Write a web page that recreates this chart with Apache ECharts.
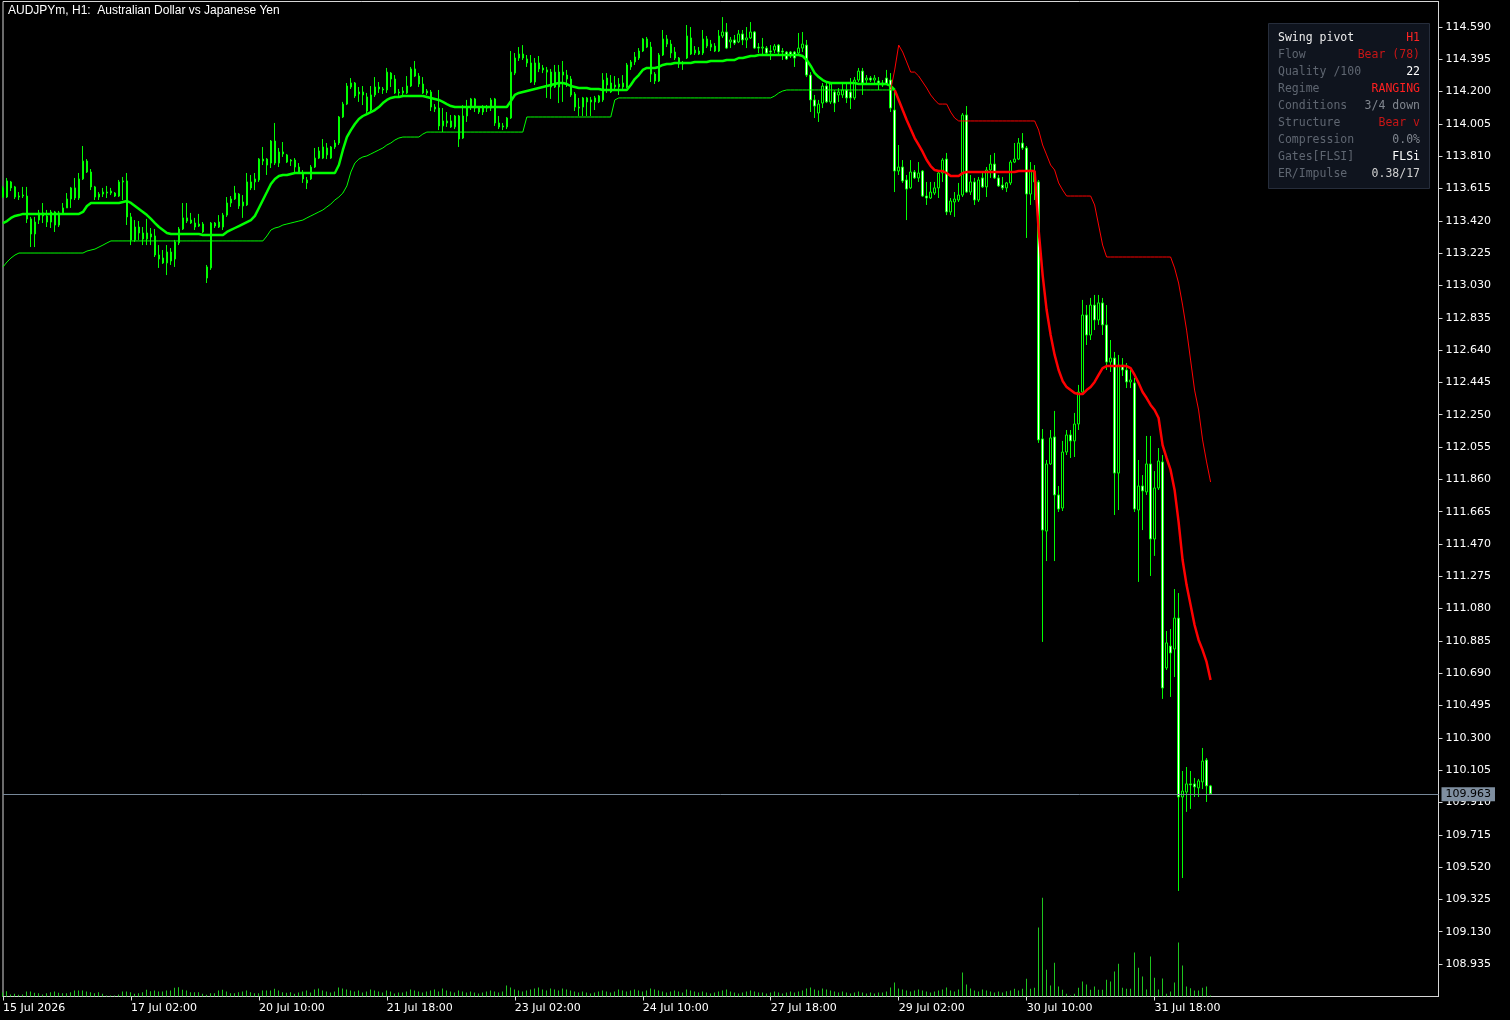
<!DOCTYPE html>
<html><head><meta charset="utf-8">
<script src="https://cdn.jsdelivr.net/npm/echarts@6/dist/echarts.min.js"></script>
<style>html,body{margin:0;padding:0;background:#000;}#chart{width:1510px;height:1020px;}</style>
</head><body><div id="chart"></div>
<script>
// ---- tick labels ----
const xTickLabels = ['15 Jul 2026','17 Jul 02:00','20 Jul 10:00','21 Jul 18:00','23 Jul 02:00','24 Jul 10:00','27 Jul 18:00','29 Jul 02:00','30 Jul 10:00','31 Jul 18:00'];
const barsPerTick = 32;
const slotCount = 360;
const yTickLabels = ['114.590','114.395','114.200','114.005','113.810','113.615','113.420','113.225','113.030','112.835','112.640','112.445','112.250','112.055','111.860','111.665','111.470','111.275','111.080','110.885','110.690','110.495','110.300','110.105','109.910','109.715','109.520','109.325','109.130','108.935'];
const priceMin = 108.739, priceMax = 114.744;
const volMax = 29850;

// ---- OHLC (H1 bars) ----
const openPrices = [
113.619,113.564,113.655,113.625,113.564,113.570,113.570,113.432,113.341,113.425,
113.468,113.450,113.413,113.474,113.395,113.468,113.498,113.552,113.619,113.558,
113.673,113.781,113.715,113.625,113.564,113.582,113.594,113.588,113.588,113.570,
113.655,113.661,113.444,113.305,113.383,113.347,113.311,113.341,113.329,113.214,
113.196,113.166,113.232,113.190,113.287,113.371,113.438,113.425,113.407,113.389,
113.401,113.142,113.136,113.407,113.413,113.383,113.455,113.528,113.552,113.582,
113.510,113.516,113.655,113.655,113.667,113.793,113.793,113.769,113.902,113.769,
113.836,113.818,113.787,113.787,113.745,113.709,113.667,113.673,113.745,113.799,
113.866,113.818,113.866,113.866,113.890,114.047,114.125,114.228,114.252,114.186,
114.198,114.168,114.089,114.180,114.228,114.216,114.210,114.312,114.276,114.198,
114.192,114.192,114.234,114.337,114.294,114.246,114.204,114.198,114.107,114.101,
113.993,114.023,114.023,113.987,114.053,113.920,114.053,114.107,114.156,114.101,
114.101,114.101,114.101,114.156,114.011,113.993,113.987,114.041,114.312,114.427,
114.427,114.397,114.373,114.258,114.373,114.343,114.331,114.318,114.228,114.318,
114.318,114.300,114.276,114.186,114.107,114.107,114.162,114.150,114.162,114.138,
114.150,114.282,114.252,114.240,114.246,114.228,114.228,114.349,114.379,114.445,
114.445,114.518,114.469,114.306,114.264,114.421,114.518,114.487,114.439,114.403,
114.373,114.403,114.524,114.433,114.445,114.433,114.518,114.469,114.475,114.445,
114.536,114.560,114.500,114.512,114.500,114.548,114.512,114.524,114.560,114.469,
114.463,114.463,114.445,114.451,114.481,114.445,114.439,114.439,114.439,114.433,
114.463,114.481,114.300,114.150,114.071,114.131,114.234,114.138,114.198,114.180,
114.180,114.210,114.198,114.162,114.270,114.324,114.270,114.282,114.270,114.264,
114.252,114.282,114.270,114.089,113.721,113.745,113.667,113.619,113.715,113.679,
113.721,113.570,113.558,113.588,113.619,113.709,113.793,113.474,113.534,113.546,
113.576,114.059,113.594,113.655,113.546,113.679,113.625,113.727,113.763,113.679,
113.636,113.619,113.649,113.775,113.793,113.890,113.860,113.582,113.715,113.655,
112.104,111.548,111.953,112.116,111.766,111.687,112.025,112.128,112.092,112.194,
112.387,112.852,112.731,112.912,112.822,112.925,112.792,112.568,112.592,111.898,
112.550,112.520,112.448,112.442,111.675,111.820,111.784,111.953,111.500,111.808,
111.965,110.722,110.854,110.836,111.023,109.943,109.973,110.022,110.022,109.998,
110.034,110.166,110.010];
const closePrices = [
113.564,113.661,113.619,113.564,113.570,113.576,113.431,113.341,113.413,113.468,
113.450,113.413,113.474,113.395,113.468,113.498,113.552,113.619,113.558,113.673,
113.781,113.715,113.625,113.564,113.582,113.594,113.588,113.600,113.570,113.655,
113.661,113.444,113.305,113.383,113.347,113.311,113.347,113.323,113.214,113.190,
113.166,113.232,113.178,113.293,113.371,113.438,113.419,113.407,113.383,113.401,
113.353,113.075,113.407,113.389,113.383,113.455,113.528,113.552,113.588,113.510,
113.534,113.655,113.619,113.673,113.793,113.781,113.757,113.902,113.769,113.836,
113.824,113.775,113.781,113.745,113.715,113.673,113.649,113.745,113.799,113.842,
113.799,113.860,113.799,113.890,114.047,114.125,114.234,114.252,114.174,114.198,
114.180,114.083,114.180,114.228,114.216,114.210,114.318,114.276,114.192,114.192,
114.204,114.234,114.337,114.294,114.246,114.192,114.192,114.107,114.095,113.993,
114.023,114.011,113.987,114.053,113.914,114.053,114.107,114.156,114.101,114.077,
114.077,114.107,114.150,114.011,113.987,113.987,114.041,114.318,114.403,114.403,
114.403,114.373,114.258,114.373,114.337,114.331,114.318,114.228,114.318,114.228,
114.300,114.276,114.180,114.107,114.101,114.162,114.138,114.138,114.138,114.174,
114.270,114.240,114.198,114.228,114.228,114.252,114.361,114.379,114.409,114.403,
114.518,114.469,114.306,114.264,114.421,114.518,114.487,114.433,114.403,114.367,
114.367,114.536,114.427,114.451,114.427,114.518,114.475,114.487,114.445,114.536,
114.560,114.463,114.512,114.493,114.548,114.512,114.524,114.560,114.463,114.463,
114.469,114.433,114.439,114.475,114.439,114.439,114.397,114.415,114.403,114.463,
114.487,114.300,114.150,114.113,114.125,114.234,114.138,114.246,114.131,114.198,
114.210,114.162,114.162,114.270,114.324,114.252,114.282,114.270,114.282,114.252,
114.240,114.246,114.101,113.721,113.745,113.661,113.612,113.715,113.679,113.709,
113.570,113.558,113.594,113.619,113.709,113.787,113.474,113.540,113.552,113.576,
114.059,113.594,113.655,113.546,113.667,113.625,113.727,113.763,113.679,113.631,
113.619,113.649,113.775,113.793,113.890,113.860,113.582,113.727,113.655,112.098,
111.554,111.953,112.110,111.766,111.681,112.025,112.128,112.092,112.194,112.387,
112.852,112.731,112.912,112.822,112.925,112.792,112.568,112.592,111.898,112.550,
112.520,112.448,112.460,111.681,111.820,111.790,111.953,111.500,111.808,111.971,
110.601,110.873,110.812,111.023,109.943,109.979,110.022,110.016,110.004,110.040,
110.160,110.010,109.963];
const highPrices = [
113.631,113.679,113.661,113.631,113.594,113.625,113.625,113.444,113.444,113.486,
113.528,113.486,113.486,113.480,113.480,113.528,113.588,113.625,113.679,113.709,
113.872,113.793,113.733,113.631,113.594,113.619,113.631,113.619,113.594,113.667,
113.685,113.709,113.468,113.425,113.419,113.383,113.432,113.377,113.371,113.274,
113.244,113.274,113.256,113.305,113.383,113.528,113.528,113.468,113.438,113.462,
113.413,113.154,113.413,113.413,113.455,113.468,113.564,113.570,113.631,113.588,
113.576,113.709,113.697,113.709,113.799,113.866,113.799,113.908,114.011,113.860,
113.896,113.824,113.793,113.799,113.769,113.727,113.685,113.757,113.860,113.866,
113.914,113.890,113.872,113.908,114.053,114.138,114.252,114.282,114.258,114.228,
114.234,114.192,114.234,114.288,114.258,114.228,114.343,114.318,114.300,114.216,
114.228,114.294,114.349,114.385,114.312,114.288,114.216,114.210,114.125,114.210,
114.101,114.077,114.059,114.059,114.059,114.119,114.150,114.162,114.162,114.113,
114.119,114.119,114.162,114.162,114.053,114.011,114.047,114.445,114.433,114.469,
114.481,114.421,114.421,114.403,114.415,114.361,114.349,114.337,114.361,114.361,
114.385,114.331,114.294,114.198,114.162,114.168,114.168,114.168,114.174,114.180,
114.312,114.312,114.300,114.294,114.282,114.300,114.373,114.391,114.439,114.463,
114.524,114.530,114.500,114.318,114.433,114.572,114.542,114.512,114.469,114.409,
114.385,114.602,114.590,114.475,114.469,114.572,114.536,114.512,114.493,114.572,
114.650,114.614,114.530,114.542,114.572,114.572,114.590,114.620,114.566,114.493,
114.524,114.475,114.481,114.487,114.487,114.463,114.445,114.445,114.445,114.554,
114.560,114.512,114.318,114.180,114.150,114.252,114.252,114.252,114.210,114.222,
114.252,114.252,114.282,114.288,114.343,114.343,114.300,114.294,114.300,114.288,
114.270,114.331,114.312,114.210,113.878,113.787,113.697,113.787,113.727,113.775,
113.727,113.655,113.655,113.655,113.715,113.799,113.830,113.558,113.594,113.649,
114.071,114.113,113.697,113.679,113.685,113.709,113.745,113.818,113.830,113.697,
113.685,113.655,113.787,113.890,113.920,113.950,113.872,113.775,113.757,113.667,
112.164,111.977,112.158,112.273,111.820,112.092,112.158,112.158,112.261,112.430,
112.943,112.912,112.955,112.973,112.973,112.955,112.912,112.701,112.629,112.611,
112.592,112.562,112.520,112.472,111.977,111.886,112.122,112.122,111.910,112.049,
112.007,110.945,110.957,111.198,111.174,110.100,110.124,110.100,110.058,110.052,
110.239,110.178,110.016];
const lowPrices = [
113.558,113.558,113.600,113.552,113.546,113.558,113.407,113.262,113.262,113.401,
113.407,113.383,113.377,113.353,113.383,113.462,113.498,113.498,113.546,113.546,
113.667,113.709,113.606,113.546,113.546,113.564,113.558,113.576,113.564,113.564,
113.546,113.395,113.274,113.293,113.305,113.274,113.274,113.274,113.202,113.136,
113.160,113.093,113.154,113.142,113.274,113.365,113.407,113.401,113.365,113.383,
113.347,113.045,113.124,113.377,113.377,113.365,113.444,113.504,113.546,113.492,
113.438,113.510,113.606,113.606,113.655,113.757,113.697,113.739,113.757,113.745,
113.806,113.769,113.751,113.709,113.709,113.649,113.612,113.667,113.739,113.793,
113.793,113.793,113.793,113.854,113.878,114.041,114.119,114.216,114.162,114.138,
114.119,114.059,114.077,114.168,114.192,114.186,114.192,114.228,114.186,114.174,
114.174,114.186,114.228,114.288,114.228,114.186,114.180,114.083,114.077,113.968,
113.956,113.987,113.981,113.974,113.866,113.914,114.017,114.089,114.077,114.065,
114.059,114.077,114.083,113.993,113.974,113.968,113.974,114.035,114.300,114.385,
114.391,114.349,114.252,114.240,114.318,114.312,114.162,114.156,114.222,114.131,
114.138,114.228,114.168,114.083,114.053,114.053,114.053,114.053,114.089,114.131,
114.138,114.192,114.192,114.210,114.180,114.210,114.222,114.331,114.361,114.391,
114.439,114.463,114.258,114.246,114.258,114.415,114.469,114.403,114.391,114.343,
114.331,114.397,114.421,114.421,114.421,114.421,114.463,114.445,114.439,114.439,
114.524,114.457,114.463,114.481,114.493,114.481,114.463,114.518,114.457,114.433,
114.427,114.421,114.391,114.433,114.427,114.391,114.391,114.403,114.349,114.421,
114.439,114.288,114.077,114.041,114.017,114.101,114.131,114.125,114.077,114.138,
114.162,114.131,114.095,114.150,114.258,114.180,114.240,114.258,114.240,114.210,
114.228,114.240,114.077,113.594,113.697,113.649,113.425,113.612,113.673,113.655,
113.564,113.516,113.552,113.576,113.558,113.655,113.455,113.455,113.444,113.534,
113.564,113.588,113.576,113.516,113.534,113.619,113.564,113.679,113.673,113.625,
113.606,113.594,113.636,113.769,113.787,113.848,113.317,113.516,113.546,112.080,
110.879,111.367,111.947,111.367,111.663,111.669,112.007,111.989,111.995,112.158,
112.369,112.671,112.701,112.761,112.792,112.731,112.520,112.508,111.645,111.675,
112.484,112.411,112.411,111.663,111.241,111.554,111.766,111.277,111.398,111.796,
110.535,110.710,110.547,110.667,109.376,109.454,109.853,109.871,109.943,109.943,
109.991,109.913,109.958];

// ---- tick volume ----
const tickVolume = [
120,160,60,80,50,60,150,150,110,100,
60,100,130,150,110,100,100,130,180,180,
180,150,130,100,130,80,30,30,30,60,
150,150,130,80,100,130,200,160,180,150,
150,180,180,260,280,200,180,130,130,130,
80,50,100,100,180,200,150,100,100,130,
150,180,130,100,100,180,180,180,230,180,
130,110,130,80,120,150,180,120,210,240,
180,150,120,150,270,240,210,180,150,180,
120,150,210,180,150,120,180,150,90,120,
120,150,210,180,150,120,150,180,210,150,
240,180,150,120,180,150,120,150,120,90,
120,150,180,150,120,150,330,270,210,180,
150,180,210,240,270,210,180,240,210,180,
240,210,180,150,120,150,120,90,120,150,
180,150,120,150,210,180,150,180,210,180,
150,180,240,210,180,150,120,150,180,150,
120,210,180,150,120,150,120,90,120,150,
180,210,150,120,90,120,150,180,150,120,
120,90,120,150,120,90,120,150,120,150,
180,240,270,210,180,240,210,180,150,120,
150,120,90,120,150,120,90,120,90,120,
120,150,270,420,240,210,180,150,180,210,
180,150,120,150,180,210,270,180,150,210,
720,360,240,180,150,210,180,150,120,150,
120,160,180,230,180,230,530,230,260,2070,
2960,800,330,1010,300,200,80,30,80,260,
450,360,200,300,200,200,500,450,750,980,
260,230,230,1320,860,600,210,1200,560,210,
540,80,150,420,1620,930,300,250,180,180,
260,300,30];

// ---- swing pivot indicator lines ----
// pivot line while bullish (bars 0..223)
const pivotBull = [
113.407,113.419,113.438,113.450,113.455,113.462,113.462,113.462,113.462,113.462,
113.462,113.462,113.462,113.462,113.462,113.462,113.462,113.462,113.462,113.462,
113.474,113.510,113.528,113.528,113.528,113.528,113.528,113.528,113.528,113.528,
113.534,113.540,113.528,113.510,113.492,113.474,113.455,113.432,113.407,113.383,
113.365,113.347,113.341,113.341,113.341,113.341,113.341,113.341,113.341,113.341,
113.335,113.335,113.335,113.335,113.335,113.335,113.353,113.365,113.377,113.389,
113.401,113.413,113.425,113.450,113.498,113.546,113.594,113.643,113.673,113.691,
113.697,113.697,113.703,113.709,113.709,113.709,113.709,113.709,113.709,113.709,
113.709,113.709,113.709,113.709,113.757,113.848,113.926,113.968,114.005,114.035,
114.053,114.065,114.077,114.089,114.107,114.131,114.150,114.162,114.168,114.168,
114.174,114.174,114.174,114.174,114.174,114.174,114.168,114.162,114.156,114.150,
114.138,114.125,114.113,114.107,114.107,114.107,114.107,114.107,114.107,114.107,
114.107,114.107,114.107,114.107,114.107,114.107,114.107,114.143,114.180,114.192,
114.198,114.204,114.210,114.216,114.222,114.228,114.234,114.240,114.246,114.252,
114.252,114.246,114.234,114.228,114.222,114.222,114.222,114.216,114.216,114.216,
114.210,114.210,114.210,114.210,114.210,114.210,114.210,114.240,114.276,114.300,
114.331,114.343,114.343,114.343,114.349,114.361,114.367,114.367,114.373,114.373,
114.373,114.373,114.373,114.379,114.379,114.379,114.379,114.385,114.385,114.385,
114.385,114.391,114.391,114.391,114.403,114.403,114.409,114.415,114.415,114.421,
114.421,114.421,114.421,114.421,114.421,114.421,114.421,114.421,114.421,114.421,
114.415,114.391,114.355,114.312,114.288,114.270,114.258,114.252,114.252,114.252,
114.252,114.252,114.252,114.252,114.246,114.246,114.246,114.246,114.246,114.246,
114.246,114.246,114.234,114.210];
// trailing support (bars 0..223)
const supportBand = [
113.142,113.172,113.196,113.214,113.226,113.226,113.226,113.226,113.226,113.226,
113.226,113.226,113.226,113.226,113.226,113.226,113.226,113.226,113.226,113.226,
113.226,113.238,113.244,113.250,113.262,113.274,113.287,113.299,113.299,113.299,
113.299,113.299,113.299,113.299,113.299,113.299,113.299,113.299,113.299,113.299,
113.299,113.299,113.299,113.299,113.299,113.299,113.299,113.299,113.299,113.299,
113.299,113.299,113.299,113.299,113.299,113.299,113.299,113.299,113.299,113.299,
113.299,113.299,113.299,113.299,113.299,113.299,113.329,113.365,113.377,113.383,
113.395,113.401,113.407,113.413,113.419,113.425,113.438,113.450,113.462,113.474,
113.486,113.504,113.522,113.546,113.564,113.588,113.631,113.715,113.769,113.793,
113.806,113.812,113.824,113.836,113.848,113.860,113.878,113.890,113.908,113.920,
113.926,113.926,113.926,113.926,113.926,113.944,113.956,113.956,113.956,113.956,
113.956,113.956,113.956,113.956,113.956,113.956,113.956,113.956,113.956,113.956,
113.956,113.956,113.956,113.956,113.956,113.956,113.956,113.956,113.956,113.956,
113.956,114.047,114.047,114.047,114.047,114.047,114.047,114.047,114.047,114.047,
114.047,114.047,114.047,114.047,114.047,114.047,114.047,114.047,114.047,114.047,
114.047,114.047,114.047,114.150,114.162,114.162,114.162,114.162,114.162,114.162,
114.162,114.162,114.162,114.162,114.162,114.162,114.162,114.162,114.162,114.162,
114.162,114.162,114.162,114.162,114.162,114.162,114.162,114.162,114.162,114.162,
114.162,114.162,114.162,114.162,114.162,114.162,114.162,114.162,114.162,114.162,
114.162,114.162,114.162,114.174,114.192,114.204,114.210,114.210,114.210,114.210,
114.210,114.210,114.210,114.210,114.210,114.210,114.210,114.210,114.210,114.210,
114.210,114.210,114.210,114.210,114.210,114.210,114.210,114.210,114.210,114.210,
114.210,114.210,114.210,114.210];
// pivot line while bearish (bars 223..302)
const pivotBearStart = 223;
const pivotBear = [
114.210,114.150,114.089,114.029,113.974,113.920,113.878,113.836,113.787,113.751,
113.727,113.721,113.721,113.709,113.691,113.691,113.691,113.709,113.715,113.715,
113.715,113.715,113.715,113.715,113.715,113.715,113.715,113.715,113.715,113.715,
113.715,113.721,113.721,113.721,113.721,113.721,113.365,113.093,112.882,112.731,
112.611,112.520,112.454,112.417,112.399,112.381,112.375,112.375,112.399,112.417,
112.448,112.490,112.532,112.544,112.544,112.544,112.544,112.544,112.544,112.532,
112.490,112.442,112.387,112.351,112.309,112.279,112.230,112.067,111.989,111.917,
111.796,111.603,111.373,111.222,111.102,110.981,110.891,110.830,110.758,110.649];
// trailing resistance (bars 222..302)
const resistStart = 222;
const resistBand = [
114.210,
114.331,114.481,114.439,114.379,114.318,114.318,114.294,114.258,114.222,114.180,
114.150,114.125,114.125,114.125,114.077,114.041,114.023,114.023,114.023,114.023,
114.023,114.023,114.023,114.023,114.023,114.023,114.023,114.023,114.023,114.023,
114.023,114.023,114.023,114.023,114.023,114.023,113.968,113.878,113.818,113.757,
113.727,113.649,113.606,113.570,113.570,113.570,113.570,113.570,113.570,113.570,
113.516,113.395,113.274,113.202,113.202,113.202,113.202,113.202,113.202,113.202,
113.202,113.202,113.202,113.202,113.202,113.202,113.202,113.202,113.202,113.202,
113.136,113.045,112.912,112.761,112.580,112.399,112.279,112.098,111.965,111.844];

// ---- info panel ----
const panelRows = [
  ['Swing pivot', 'H1', '#ececec', '#ff2424'],
  ['Flow', 'Bear (78)', '#5f6671', '#c81616'],
  ['Quality /100', '22', '#5f6671', '#ffffff'],
  ['Regime', 'RANGING', '#5f6671', '#ff2020'],
  ['Conditions', '3/4 down', '#5f6671', '#80868f'],
  ['Structure', 'Bear v', '#5f6671', '#c81616'],
  ['Compression', '0.0%', '#5f6671', '#80868f'],
  ['Gates[FLSI]', 'FLSi', '#5f6671', '#ffffff'],
  ['ER/Impulse', '0.38/17', '#5f6671', '#d0d0d0']
];

const slots = Array.from({length: slotCount}, (_, i) => String(i));
const candleData = openPrices.map((o, i) => [o, closePrices[i], lowPrices[i], highPrices[i]]);
const padTo = (start, arr) => Array(start).fill(null).concat(arr);
const yTickValues = yTickLabels.map(Number);
const lastPrice = closePrices[closePrices.length - 1];
const isTick = (i) => i % barsPerTick === 0 && i / barsPerTick < xTickLabels.length;

const mono = '11.5px "DejaVu Sans Mono", "Liberation Mono", monospace';
const graphics = [{ type: 'rect', z: 100, shape: { x: 1268.5, y: 23.5, width: 161, height: 165 },
  style: { fill: '#0f141e', stroke: '#262d3b', lineWidth: 1 } }];
panelRows.forEach((r, i) => {
  const y = 38 + i * 17;
  graphics.push({ type: 'text', z: 101, x: 1278, y: y, style: { text: r[0], fill: r[2], font: mono, align: 'left', verticalAlign: 'middle' } });
  graphics.push({ type: 'text', z: 101, x: 1420, y: y, style: { text: r[1], fill: r[3], font: mono, align: 'right', verticalAlign: 'middle' } });
});

const axisColor = '#d6d6d6';
const gridBox = { left: 2.5, right: 71.5, top: 1.5, bottom: 23.5 };
const chart = echarts.init(document.getElementById('chart'));
chart.setOption({
  backgroundColor: '#000000',
  animation: false,
  title: { text: 'AUDJPYm, H1:  Australian Dollar vs Japanese Yen', left: 8, top: 5, padding: 0,
    textStyle: { color: '#ffffff', fontSize: 12, fontWeight: 'normal', fontFamily: 'Liberation Sans' } },
  grid: [
    Object.assign({ show: true, borderColor: axisColor, borderWidth: 1, backgroundColor: 'transparent' }, gridBox),
    Object.assign({}, gridBox)
  ],
  xAxis: [
    { type: 'category', gridIndex: 0, data: slots, boundaryGap: false,
      axisLine: { show: true, lineStyle: { color: axisColor } },
      axisTick: { show: true, interval: isTick, length: 4, lineStyle: { color: axisColor } },
      axisLabel: { show: true, interval: isTick, formatter: (v, i) => xTickLabels[i / barsPerTick], align: 'left',
        color: '#ffffff', fontSize: 11, fontFamily: 'DejaVu Sans', margin: 6 },
      splitLine: { show: false } },
    { type: 'category', gridIndex: 1, data: slots, boundaryGap: false, show: false }
  ],
  yAxis: [
    { type: 'value', gridIndex: 0, position: 'right', min: priceMin, max: priceMax,
      axisLine: { show: true, lineStyle: { color: axisColor } },
      axisTick: { show: true, length: 4, customValues: yTickValues, lineStyle: { color: axisColor } },
      axisLabel: { show: true, customValues: yTickValues, formatter: v => v.toFixed(3), color: '#ffffff',
        fontSize: 11, fontFamily: 'DejaVu Sans', margin: 7 },
      splitLine: { show: false } },
    { type: 'value', gridIndex: 1, min: 0, max: volMax, show: false, splitLine: { show: false } }
  ],
  graphic: graphics,
  series: [
    { type: 'bar', xAxisIndex: 1, yAxisIndex: 1, data: tickVolume, barWidth: 1, silent: true, z: 1,
      itemStyle: { color: '#1ec41e' } },
    { type: 'candlestick', xAxisIndex: 0, yAxisIndex: 0, data: candleData, barWidth: 2, silent: true, z: 3,
      itemStyle: { color: '#000000', color0: '#ffffff', borderColor: '#00ff00', borderColor0: '#00ff00', borderWidth: 1 },
      markLine: { silent: true, symbol: ['none', 'none'], animation: false,
        lineStyle: { color: '#778899', width: 1, type: 'solid' },
        label: { show: true, position: 'end', distance: 3, formatter: lastPrice.toFixed(3), color: '#000000',
          backgroundColor: '#7f8fa0', padding: [2, 4, 1, 4], fontSize: 11, fontFamily: 'DejaVu Sans' },
        data: [{ yAxis: lastPrice }] } },
    { type: 'line', data: pivotBull, symbol: 'none', silent: true, z: 4, lineStyle: { color: '#00ff00', width: 2.5 } },
    { type: 'line', data: supportBand, symbol: 'none', silent: true, z: 4, lineStyle: { color: '#00ff00', width: 1 } },
    { type: 'line', data: padTo(pivotBearStart, pivotBear), symbol: 'none', silent: true, z: 4, lineStyle: { color: '#ff0000', width: 2.5 } },
    { type: 'line', data: padTo(resistStart, resistBand), symbol: 'none', silent: true, z: 4, lineStyle: { color: '#ff0000', width: 1 } }
  ]
});
</script></body></html>
